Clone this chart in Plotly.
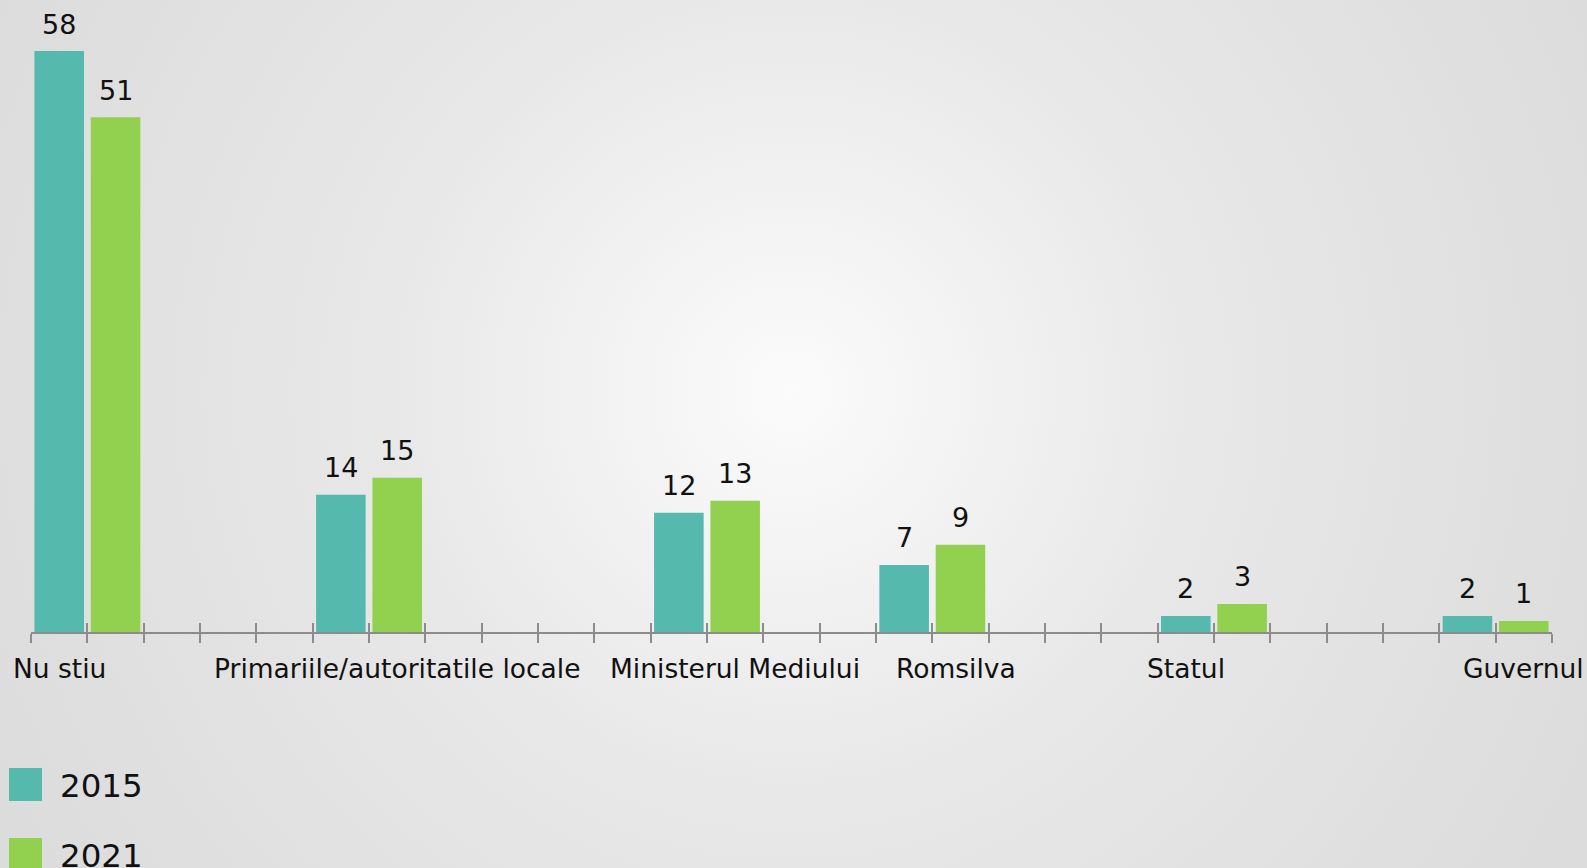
import base64
import plotly.graph_objects as go

# data (bar heights; labels show them rounded)
categories = ["Nu stiu", "Primariile/autoritatile locale", "Ministerul Mediului",
              "Romsilva", "Statul", "Guvernul"]
values_2015 = [58.0, 13.7, 11.9, 6.7, 1.6, 1.6]
values_2021 = [51.4, 15.4, 13.1, 8.7, 2.8, 1.1]
years = ["2015", "2021"]

# layout constants (slot positions on a 27-slot axis)
group_slots = [0, 5, 11, 15, 20, 25]
label_slots = [0, 6, 12, 16, 20, 26]
label_shift = [0, 0, 0, -4, 0, 0]
n_slots = 27
colors = {"2015": "#55b9ad", "2021": "#92d14f"}
FONT = "DejaVu Sans, Verdana, sans-serif"

W, H = 1587, 868
ML, MR, MT, MB = 31, W - 1552, 0, H - 632
PW, PH = W - ML - MR, H - MT - MB

x2015 = [s + 0.5 for s in group_slots]
x2021 = [s + 1.5 for s in group_slots]

fig = go.Figure()
fig.add_trace(go.Bar(x=x2015, y=values_2015, name=years[0], width=0.88,
                     marker=dict(color=colors["2015"], line=dict(width=0)),
                     showlegend=False, hoverinfo="skip"))
fig.add_trace(go.Bar(x=x2021, y=values_2021, name=years[1], width=0.88,
                     marker=dict(color=colors["2021"], line=dict(width=0)),
                     showlegend=False, hoverinfo="skip"))

annotations = []
# value labels above bars
for xs, vals in ((x2015, values_2015), (x2021, values_2021)):
    for x, v in zip(xs, vals):
        annotations.append(dict(x=x, y=v, text=str(round(v)), showarrow=False,
                                xanchor="center", yanchor="middle", yshift=27,
                                font=dict(family=FONT, size=27, color="#111")))
# category labels under the axis
for s, cat, dx in zip(label_slots, categories, label_shift):
    annotations.append(dict(x=s + 0.5, y=0, text=cat, showarrow=False,
                            xanchor="center", yanchor="middle", yshift=-36, xshift=dx,
                            font=dict(family=FONT, size=26.5, color="#111")))


def px_x(p):
    return (p - ML) / PW


def px_y(p):
    return 1 - (p - MT) / PH


# hand-drawn legend (big squares like the original)
shapes = []
for i, yr in enumerate(years):
    top = 768 + i * 70
    shapes.append(dict(type="rect", xref="paper", yref="paper",
                       x0=px_x(9), x1=px_x(42), y0=px_y(top), y1=px_y(top + 33),
                       fillcolor=colors[yr], line=dict(width=0)))
    annotations.append(dict(xref="paper", yref="paper", x=px_x(58), y=px_y(top + 18),
                            text=yr, showarrow=False, xanchor="left", yanchor="middle",
                            font=dict(family=FONT, size=32.5, color="#111")))

# radial gradient background as an svg image
svg = (
    f'<svg xmlns="http://www.w3.org/2000/svg" width="{W}" height="{H}">'
    '<defs><radialGradient id="g" gradientUnits="userSpaceOnUse" cx="790" cy="390" r="900">'
    '<stop offset="0" stop-color="#fbfbfb"/>'
    '<stop offset="0.45" stop-color="#e8e8e8"/>'
    '<stop offset="0.88" stop-color="#dedede"/>'
    '<stop offset="1" stop-color="#dcdcdc"/>'
    '</radialGradient></defs>'
    f'<rect width="{W}" height="{H}" fill="url(#g)"/></svg>'
)
bg_src = "data:image/svg+xml;base64," + base64.b64encode(svg.encode()).decode()

fig.update_layout(
    width=W, height=H,
    margin=dict(l=ML, r=MR, t=MT, b=MB, pad=0),
    paper_bgcolor="#e4e4e4",
    plot_bgcolor="rgba(0,0,0,0)",
    barmode="overlay",
    images=[dict(source=bg_src, xref="paper", yref="paper",
                 x=-ML / PW, y=1 + MT / PH, sizex=W / PW, sizey=H / PH,
                 xanchor="left", yanchor="top", sizing="stretch", layer="below")],
    xaxis=dict(range=[-0.001, n_slots + 0.001], tickmode="linear", tick0=0, dtick=1,
               ticks="outside", ticklen=9, tickwidth=2, tickcolor="#8c8c8c",
               showticklabels=False, showgrid=False, zeroline=False,
               showline=True, linecolor="#8c8c8c", linewidth=2, fixedrange=True),
    xaxis2=dict(range=[-0.001, n_slots + 0.001], tickmode="linear", tick0=0, dtick=1,
                ticks="inside", ticklen=9, tickwidth=2, tickcolor="#8c8c8c",
                showticklabels=False, showgrid=False, zeroline=False,
                overlaying="x", anchor="y", side="bottom", fixedrange=True),
    yaxis=dict(range=[0, PH / 10.017], visible=False, fixedrange=True),
    shapes=shapes,
    annotations=annotations,
)
# invisible trace so xaxis2 gets drawn
fig.add_trace(go.Scatter(x=[0], y=[0], xaxis="x2", mode="markers",
                         marker=dict(opacity=0), showlegend=False, hoverinfo="skip"))

fig.write_html("out.html", config={"displayModeBar": False},
               post_script="document.body.style.margin='0';")
